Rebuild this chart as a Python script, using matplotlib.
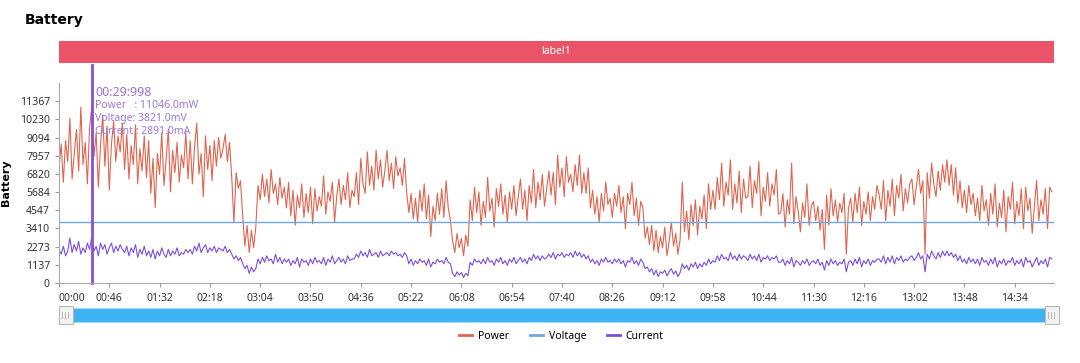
import matplotlib
matplotlib.use("Agg")
import matplotlib.pyplot as plt
from matplotlib.patches import Rectangle
from matplotlib.lines import Line2D

plt.rcParams['font.family'] = ['Noto Sans', 'DejaVu Sans']

# data, one sample every 2 s
step_s = 2
power = [
    7200, 8700, 6300, 8900, 7600, 10300, 6500, 8100, 9600, 7000, 11000, 7400, 8800, 6200, 9700,
    11046, 7900, 9400, 6000, 8600, 10500, 7300, 9800, 5800, 8700, 10100, 7600, 9200, 8200, 10000,
    7100, 9300, 6500, 8600, 7400, 9900, 6200, 8400, 7000, 9200, 6600, 8900, 5600, 7800, 4700,
    8100, 6800, 9400, 6100, 7700, 9600, 5700, 8300, 6900, 8800, 6300, 8000, 7200, 9400, 6500,
    8900, 6200, 8500, 10000, 6800, 8100, 5400, 9200, 7100, 8600, 6400, 8900, 7300, 9100, 7800,
    8400, 9300, 7600, 8800, 6600, 3800, 6900, 5900, 6400, 4200, 2300, 3600, 1900, 3300, 2200,
    3500, 6100, 5200, 6800, 5400, 6500, 5000, 7100, 5600, 6200, 4900, 6600, 5300, 6000, 4700,
    6300, 4200, 5800, 3600, 5500, 4700, 6200, 4100, 5600, 4400, 6000, 3700, 5900, 4500, 5400,
    4800, 6700, 4300, 5700, 5100, 6300, 3800, 5400, 6500, 4900, 6100, 5200, 6900, 4700, 5800,
    5400, 6900, 4900, 7800, 6200, 5600, 8200, 6100, 7300, 5800, 8300, 6500, 7700, 6000, 7000,
    8300, 6400, 7500, 5900, 7900, 6700, 7200, 6100, 7800, 5600, 4400, 5600, 4000, 5300, 3800,
    5800, 4500, 6200, 4000, 5500, 2900, 4800, 3900, 5600, 4300, 5900, 4100, 6400, 4700, 3900,
    2600, 1900, 3100, 2200, 2800, 1700, 3000, 2300, 5200, 3900, 6000, 4400, 5700, 3600, 5100,
    4100, 6600, 4500, 5300, 3500, 5900, 4800, 6200, 4300, 5500, 3800, 5700, 4600, 6100, 4200,
    5400, 6500, 4600, 5800, 3900, 6100, 5000, 7100, 4700, 6300, 5200, 6800, 4800, 5900, 7000,
    5500, 6900, 4900, 8000, 6000, 7200, 5400, 7900, 6300, 6800, 5700, 7400, 6100, 8000, 5600,
    6900, 5600, 7200, 4700, 5800, 4300, 5400, 3800, 5600, 4500, 6300, 4900, 5300, 4100, 5600,
    4800, 6100, 4400, 5400, 3400, 5600, 4900, 6300, 4200, 5300, 3600, 5100, 4700, 2800, 3500,
    2400, 3600, 2000, 3300, 1900, 2900, 2200, 3500, 1700, 2600, 3800, 2300, 3100, 1800, 2700,
    6300, 3200, 4500, 2700, 4900, 3600, 5200, 3000, 4800, 4000, 5500, 3400, 6200, 4600, 5800,
    4600, 6600, 5200, 7500, 4800, 6300, 5500, 7700, 4600, 6200, 5000, 7000, 4400, 6500, 5300,
    5400, 7300, 4700, 6400, 5600, 7600, 4200, 6000, 5100, 6900, 4800, 6200, 5500, 7100, 4300,
    4400, 5600, 3500, 5200, 4300, 7500, 3700, 5400, 4500, 3200, 5000, 4100, 6200, 3600, 4800,
    5100, 3900, 4800, 3300, 4600, 2100, 5500, 3600, 5900, 4200, 5200, 3800, 5000, 4400, 5600,
    1800, 4700, 5300, 3800, 5600, 4400, 6000, 3600, 5100, 4300, 5700, 3900, 5400, 4600, 6100,
    5500, 4600, 6400, 3900, 5800, 4800, 6500, 4200, 6100, 5300, 6800, 4500, 5900, 5000, 6200,
    6500, 4900, 6000, 7100, 5600, 6400, 1800, 6900, 5300, 7500, 6200, 5400, 7000, 5800, 7400,
    6300, 7700, 6100, 7400, 5500, 7200, 5000, 6400, 4700, 5800, 4400, 6100, 4900, 5600, 4200,
    5300, 3900, 6100, 4500, 5200, 3600, 5600, 4300, 6200, 3500, 5000, 4100, 5800, 3200, 5400,
    4600, 6300, 3700, 5100, 4200, 5900, 3400, 6000, 4500, 5300, 3100, 4800, 6400, 3900, 5200,
    4300, 5900, 3400, 6000, 5700,
]
current = [
    2100, 1800, 2300, 1700, 2000, 2800, 1900, 2400, 2000, 2600, 1800, 2200, 1900, 2500, 2100,
    2891, 2000, 2300, 1700, 2500, 2100, 2400, 1800, 2200, 2500, 1900, 2300, 2000, 2400, 2100,
    1900, 2300, 1700, 2200, 1900, 2400, 1600, 2100, 1800, 2300, 1700, 2000, 1600, 2100, 1500,
    2000, 1700, 2200, 1800, 1600, 2100, 1700, 2000, 1800, 2200, 1700, 1900, 1800, 2100, 1900,
    2100, 1800, 2300, 2000, 2500, 1900, 2200, 2400, 1900, 2200, 2000, 2300, 1900, 2200, 2100,
    2000, 2300, 1900, 2100, 1800, 1500, 1700, 1400, 1600, 1200, 900, 1100, 600, 1000, 700,
    900, 1500, 1200, 1600, 1300, 1700, 1400, 1500, 1200, 1800, 1300, 1600, 1200, 1500, 1300,
    1500, 1100, 1400, 1200, 1600, 1000, 1500, 1300, 1400, 1100, 1500, 1200, 1600, 1300, 1400,
    1200, 1600, 1100, 1500, 1300, 1700, 1200, 1400, 1600, 1300, 1500, 1200, 1700, 1400, 1500,
    1500, 1800, 1600, 2000, 1700, 1900, 1600, 2100, 1700, 1800, 1900, 1600, 2000, 1700, 1800,
    1900, 1700, 2000, 1800, 1900, 1700, 1800, 1600, 1900, 1700, 1200, 1500, 1100, 1400, 1200,
    1500, 1300, 1400, 1100, 1500, 1000, 1300, 1200, 1500, 1300, 1400, 1200, 1600, 1300, 1200,
    600, 400, 700, 500, 650, 350, 600, 450, 1300, 1100, 1500, 1300, 1400, 1200, 1500,
    1200, 1600, 1300, 1400, 1100, 1500, 1300, 1600, 1200, 1400, 1100, 1500, 1300, 1600, 1200,
    1400, 1600, 1300, 1500, 1200, 1600, 1400, 1800, 1500, 1700, 1400, 1700, 1500, 1600, 1800,
    1600, 1900, 1500, 1800, 1700, 1900, 1600, 1800, 1700, 1900, 1600, 2000, 1700, 1900, 1600,
    1800, 1500, 1700, 1300, 1500, 1200, 1400, 1100, 1500, 1300, 1600, 1300, 1400, 1200, 1500,
    1300, 1500, 1200, 1400, 1000, 1400, 1300, 1600, 1200, 1400, 1100, 1500, 1300, 900, 1000,
    700, 900, 500, 800, 400, 700, 600, 800, 450, 700, 900, 550, 750, 400, 650,
    1200, 900, 1100, 800, 1200, 1000, 1300, 900, 1200, 1000, 1300, 1100, 1500, 1200, 1400,
    1300, 1700, 1400, 1800, 1500, 1600, 1400, 1900, 1500, 1700, 1400, 1800, 1500, 1700, 1600,
    1400, 1800, 1500, 1700, 1400, 1800, 1300, 1600, 1500, 1700, 1400, 1600, 1500, 1700, 1300,
    1300, 1500, 1100, 1400, 1200, 1600, 1000, 1400, 1300, 1100, 1400, 1200, 1500, 1100, 1300,
    1400, 1200, 1500, 1100, 1300, 800, 1400, 1100, 1500, 1200, 1400, 1100, 1300, 1200, 1500,
    700, 1300, 1400, 1100, 1500, 1200, 1600, 1000, 1400, 1200, 1500, 1100, 1400, 1300, 1500,
    1500, 1300, 1700, 1200, 1600, 1300, 1700, 1200, 1600, 1400, 1700, 1300, 1500, 1400, 1600,
    1700, 1400, 1600, 1900, 1500, 1700, 700, 1800, 1500, 2000, 1700, 1500, 1900, 1600, 2000,
    1700, 2000, 1700, 1900, 1600, 1800, 1400, 1700, 1300, 1500, 1200, 1600, 1300, 1500, 1200,
    1500, 1100, 1600, 1300, 1400, 1100, 1500, 1200, 1600, 1000, 1400, 1200, 1500, 1100, 1400,
    1300, 1600, 1100, 1400, 1200, 1500, 1000, 1600, 1300, 1400, 1000, 1300, 1600, 1100, 1400,
    1200, 1500, 1000, 1600, 1500,
]
voltage_mv = 3821
y_ticks = [0, 1137, 2273, 3410, 4547, 5684, 6820, 7957, 9094, 10230, 11367]
x_tick_labels = ['00:00', '00:46', '01:32', '02:18', '03:04', '03:50', '04:36',
                 '05:22', '06:08', '06:54', '07:40', '08:26', '09:12', '09:58',
                 '10:44', '11:30', '12:16', '13:02', '13:48', '14:34']
cursor_t = 30
tip_lines = ['Power   : 11046.0mW', 'Voltage: 3821.0mV', 'Current : 2891.0mA']

t = [i * step_s for i in range(len(power))]
x_ticks = [int(s[:2]) * 60 + int(s[3:]) for s in x_tick_labels]

c_power = '#e0654f'
c_volt = '#6fa8dc'
c_curr = '#7a4fe0'

fig = plt.figure(figsize=(10.8, 3.63), dpi=100)
ax = fig.add_axes([0.0546, 0.2204, 0.9214, 0.5509])

ax.plot(t, power, color=c_power, lw=0.8, label='Power')
ax.plot([0, 910], [voltage_mv, voltage_mv], color=c_volt, lw=1.0, label='Voltage')
ax.plot(t, current, color=c_curr, lw=0.8, label='Current')

ax.set_xlim(0, 910)
ax.set_ylim(0, 12504)
ax.set_yticks(y_ticks)
ax.set_yticklabels([str(v) for v in y_ticks])
ax.set_xticks(x_ticks)
ax.set_xticklabels(x_tick_labels)
ax.tick_params(labelsize=7.5, colors='#999999', labelcolor='#333333', length=3)
ax.tick_params(axis='x', pad=4)
ax.get_xticklabels()[0].set_horizontalalignment('left')
for s in ['top', 'right']:
    ax.spines[s].set_visible(False)
for s in ['left', 'bottom']:
    ax.spines[s].set_color('#aaaaaa')
ax.set_ylabel('Battery', fontsize=8, fontweight='bold', labelpad=6, family='DejaVu Sans')

# cursor line + tooltip
ax.axvline(cursor_t, ymin=0, ymax=1.09, color='#8a4fd8', lw=2, clip_on=False)
ax.text(cursor_t + 3, 0.955, '00:29:998', transform=ax.get_xaxis_transform(),
        fontsize=9, color='#9b72dc', va='center')
for i, line in enumerate(tip_lines):
    ax.text(cursor_t + 3, 0.89 - i * 0.065, line, transform=ax.get_xaxis_transform(),
            fontsize=7.5, color='#9b7ad8', va='center')

# title
fig.text(0.023, 0.945, 'Battery', fontsize=10, fontweight='bold', va='center',
         family='DejaVu Sans')

# red label bar
fig.patches.append(Rectangle((0.0546, 0.8264), 0.9214, 0.0606, transform=fig.transFigure,
                             facecolor='#eb5468', edgecolor='none'))
fig.text(0.515, 0.857, 'label1', color='white', fontsize=7.5, ha='center', va='center')

# slider
fig.patches.append(Rectangle((0.0546, 0.113), 0.9214, 0.039, transform=fig.transFigure,
                             facecolor='#3db3f2', edgecolor='#9fd8f8', lw=0.8))
for hx in [0.0546, 0.9676]:
    fig.patches.append(Rectangle((hx, 0.107), 0.013, 0.05, transform=fig.transFigure,
                                 facecolor='#f2f2f2', edgecolor='#b8b8b8', lw=0.8))
    fig.text(hx + 0.0065, 0.132, '|||', fontsize=4.5, color='#888888', ha='center', va='center')

handles = [Line2D([], [], color=c_power, lw=2), Line2D([], [], color=c_volt, lw=2),
           Line2D([], [], color=c_curr, lw=2)]
fig.legend(handles, ['Power', 'Voltage', 'Current'], loc='center', bbox_to_anchor=(0.52, 0.074),
           ncol=3, frameon=False, fontsize=7.5, handlelength=1.2, columnspacing=2.0,
           handletextpad=0.6)

fig.savefig('out.png', dpi=100)
